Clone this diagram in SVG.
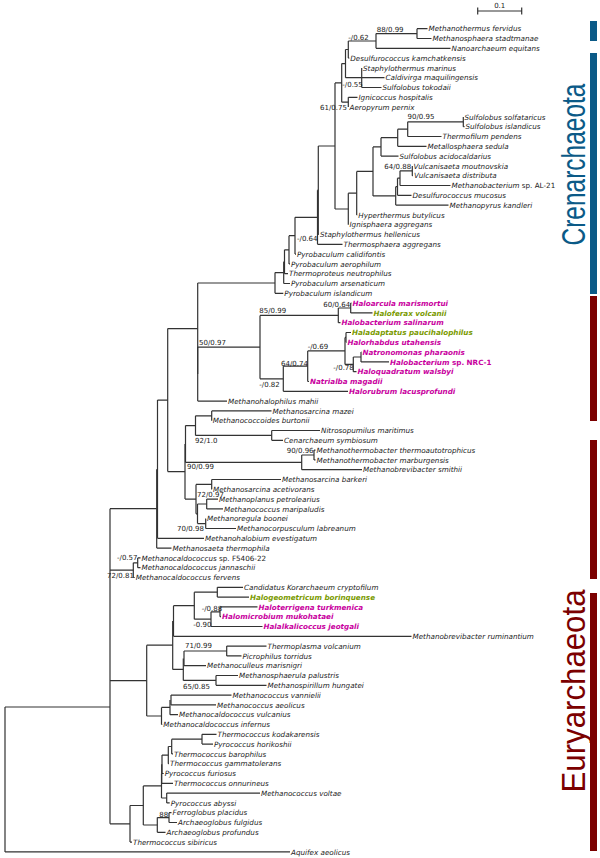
<svg xmlns="http://www.w3.org/2000/svg" width="600" height="858" viewBox="0 0 600 858">
<style>
.e{fill:none;stroke:#333;stroke-width:1.2}
.l{font-family:"DejaVu Sans",sans-serif;font-size:7.2px;font-style:italic;fill:#222}
.m{fill:#c8009e;font-weight:bold}
.g{fill:#7a9a00;font-weight:bold}
.u{font-style:normal}
.s{font-family:"DejaVu Sans",sans-serif;font-size:7px;fill:#222}
.big{font-family:"Liberation Sans",Arial,sans-serif;font-size:33.5px}
</style>
<rect width="600" height="858" fill="#fff"/>
<g id="connectors" class="e">
<path d="M417 28.7V38.5M417 28.7H427.5M417 38.5H431.5"/>
<path d="M376 33.6V48.3M376 33.6H417M376 48.3H450.5"/>
<path d="M348.3 41V58.1M348.3 41H376M348.3 58.1H349.3"/>
<path d="M361.7 67.9V87.5M361.7 77.7H384.5M361.7 87.5H381.5"/>
<path d="M345.5 49.5V77.7M345.5 49.5H348.3M345.5 77.7H361.7"/>
<path d="M348.3 97.3V107.1M348.3 97.3H357.5"/>
<path d="M341.7 63.6V102.2M341.7 63.6H345.5M341.7 102.2H348.3"/>
<path d="M463.3 116.9V126.7M463.3 126.7H464.5"/>
<path d="M407.7 121.8V136.5M407.7 121.8H463.3M407.7 136.5H441.5"/>
<path d="M397.7 129.2V146.3M397.7 129.2H407.7M397.7 146.3H426.5"/>
<path d="M381 137.7V156.1M381 137.7H397.7M381 156.1H398.5"/>
<path d="M412.3 165.9V175.7M412.3 175.7H413"/>
<path d="M400 170.8V185.5M400 170.8H412.3M400 185.5H450.5"/>
<path d="M397.5 178.2V195.3M397.5 178.2H400M397.5 195.3H411.5"/>
<path d="M395.7 186.7V205.1M395.7 186.7H397.5M395.7 205.1H448.5"/>
<path d="M373 146.9V195.9M373 146.9H381M373 195.9H395.7"/>
<path d="M356.7 171.4V214.9M356.7 171.4H373M356.7 214.9H357.3"/>
<path d="M348.3 193.2V224.7M348.3 193.2H356.7"/>
<path d="M335 82.9V209M335 82.9H341.7M335 209H348.3"/>
<path d="M318.3 146V234.5M318.3 146H335M318.3 234.5H319"/>
<path d="M317.5 190.2V244.3M317.5 190.2H318.3M317.5 244.3H342.5"/>
<path d="M295 217.3V254.1M295 217.3H317.5M295 254.1H296"/>
<path d="M289 235.7V263.9M289 235.7H295M289 263.9H290"/>
<path d="M284.5 249.8V273.7M284.5 249.8H289M284.5 273.7H288"/>
<path d="M283.7 261.8V283.5M283.7 261.8H284.5M283.7 283.5H290"/>
<path d="M275 272.6V293.3M275 272.6H283.7M275 293.3H283.3"/>
<path d="M350.7 303.1V312.9M350.7 303.1H351.5M350.7 312.9H372.5"/>
<path d="M338.3 308V322.7M338.3 308H350.7M338.3 322.7H340.5"/>
<path d="M361 352.1V361.9M361 352.1H361.5M361 361.9H389"/>
<path d="M353.3 357V371.7M353.3 357H361M353.3 371.7H356.5"/>
<path d="M346 332.5V342.3M346 332.5H351M346 342.3H346.5"/>
<path d="M345 337.4V364.4M345 337.4H346M345 364.4H353.3"/>
<path d="M307.7 350.9V381.5M307.7 350.9H345M307.7 381.5H309"/>
<path d="M283.3 366.2V391.3M283.3 366.2H307.7M283.3 391.3H348"/>
<path d="M260 315.4V378.8M260 315.4H338.3M260 378.8H283.3"/>
<path d="M197.7 347.1V401.1M197.7 347.1H260M197.7 401.1H227"/>
<path d="M197.7 283V374.1M197.7 283H275"/>
<path d="M211.7 410.9V420.7M211.7 410.9H271.5"/>
<path d="M271.7 430.5V440.3M271.7 430.5H320M271.7 440.3H283"/>
<path d="M195.5 415.8V435.4M195.5 415.8H211.7M195.5 435.4H271.7"/>
<path d="M314 450.1V459.9M314 450.1H315.5M314 459.9H315.5"/>
<path d="M301.7 455V469.7M301.7 455H314M301.7 469.7H362"/>
<path d="M185.5 425.6V462.4M185.5 425.6H195.5M185.5 462.4H301.7"/>
<path d="M211.7 479.5V489.3M211.7 479.5H281M211.7 489.3H212"/>
<path d="M206.7 499.1V508.9M206.7 499.1H218M206.7 508.9H223"/>
<path d="M205.7 518.7V528.5M205.7 518.7H206M205.7 528.5H236"/>
<path d="M197.5 504V523.6M197.5 504H206.7M197.5 523.6H205.7"/>
<path d="M196 484.4V513.8M196 484.4H211.7M196 513.8H197.5"/>
<path d="M185 444V499.1M185 499.1H196"/>
<path d="M167.7 328.6V471.6M167.7 328.6H197.7M167.7 471.6H185"/>
<path d="M157.5 400.1V538.3M157.5 400.1H167.7M157.5 538.3H204"/>
<path d="M156.7 469.2V548.1M156.7 548.1H171.5"/>
<path d="M137.7 557.9V567.7M137.7 557.9H140.5M137.7 567.7H140.5"/>
<path d="M133.3 562.8V577.5M133.3 562.8H137.7M133.3 577.5H134.7"/>
<path d="M217.3 587.3V597.1M217.3 587.3H243M217.3 597.1H249"/>
<path d="M220 606.9V616.7M220 606.9H257.5M220 616.7H221"/>
<path d="M211 611.8V626.5M211 611.8H220M211 626.5H262.5"/>
<path d="M194.3 592.2V619.2M194.3 592.2H217.3M194.3 619.2H211"/>
<path d="M173.5 605.7V636.3M173.5 605.7H194.3M173.5 636.3H411.5"/>
<path d="M226.7 646.1V655.9M226.7 646.1H266.5M226.7 655.9H241.5"/>
<path d="M184 651V665.7M184 651H226.7M184 665.7H206"/>
<path d="M216 675.5V685.3M216 675.5H238M216 685.3H266.5"/>
<path d="M183.3 658.4V680.4M183.3 680.4H216"/>
<path d="M172.7 621V669.4M172.7 669.4H183.3"/>
<path d="M171 695.1V704.9M171 695.1H231.5M171 704.9H216"/>
<path d="M170 700V714.7M170 714.7H178"/>
<path d="M161.5 707.4V724.5M161.5 707.4H170M161.5 724.5H162.3"/>
<path d="M146.7 645.2V716M146.7 645.2H172.7M146.7 716H161.5"/>
<path d="M202 734.3V744.1M202 734.3H216.5M202 744.1H213"/>
<path d="M171.7 739.2V753.9M171.7 739.2H202M171.7 753.9H173"/>
<path d="M168.3 746.5V763.7M168.3 746.5H171.7M168.3 763.7H169"/>
<path d="M162 755.1V773.5M162 755.1H168.3M162 773.5H163.7"/>
<path d="M161.7 764.3V783.3M161.7 783.3H173"/>
<path d="M166.7 793.1V802.9M166.7 793.1H260M166.7 802.9H169.7"/>
<path d="M161.5 773.8V798M161.5 798H166.7"/>
<path d="M169 812.7V822.5M169 812.7H171.5M169 822.5H177"/>
<path d="M157.3 817.6V832.3M157.3 817.6H169M157.3 832.3H165.5"/>
<path d="M143.3 785.9V825M143.3 785.9H161.5M143.3 825H157.3"/>
<path d="M130 805.5V842.1M130 805.5H143.3M130 842.1H132"/>
<path d="M110 508.7V823.8M110 508.7H156.7M110 570.2H133.3M110 680.6H146.7M110 823.8H130"/>
<path d="M5 707V851.9M5 707H110M5 851.9H290"/>
</g>
<g id="scalebar">
<path class="e" d="M477.7 11H521.7M477.7 7.5V14.5M521.7 7.5V14.5"/>
<text class="s" x="499.7" y="8" text-anchor="middle">0.1</text>
</g>
<g id="support" class="s">
<text x="376.7" y="32">88/0.99</text>
<text x="348.3" y="39.5">-/0.62</text>
<text x="342.3" y="87">-/0.55</text>
<text x="320" y="109.5">61/0.75</text>
<text x="407.5" y="118.5">90/0.95</text>
<text x="384.3" y="168.5">64/0.88</text>
<text x="297" y="241">-/0.64</text>
<text x="323.3" y="306.5">60/0.64</text>
<text x="259.3" y="312.5">85/0.99</text>
<text x="199" y="344.8">50/0.97</text>
<text x="307.7" y="348.5">-/0.69</text>
<text x="281" y="365.8">64/0.74</text>
<text x="333.3" y="370.2">-/0.78</text>
<text x="259.3" y="386.8">-/0.82</text>
<text x="195" y="442.5">92/1.0</text>
<text x="286.7" y="453.2">90/0.96</text>
<text x="187" y="469.2">90/0.99</text>
<text x="197" y="497">72/0.97</text>
<text x="177" y="530.8">70/0.98</text>
<text x="117" y="560.2">-/0.57</text>
<text x="107" y="577.5">72/0.81</text>
<text x="201.7" y="610.8">-/0.88</text>
<text x="193.3" y="626.8">-0.90</text>
<text x="185" y="647.5">71/0.99</text>
<text x="183" y="688.5">65/0.85</text>
<text x="159.3" y="816.8">88</text>
</g>
<g id="leaves" class="l">
<g id="t1"><text x="428.5" y="31.3">Methanothermus fervidus</text></g>
<g id="t2"><text x="432.5" y="41.1">Methanosphaera stadtmanae</text></g>
<g id="t3"><text x="451.5" y="50.9">Nanoarchaeum equitans</text></g>
<g id="t4"><text x="350.3" y="60.7">Desulfurococcus kamchatkensis</text></g>
<g id="t5"><text x="363" y="70.5">Staphylothermus marinus</text></g>
<g id="t6"><text x="385.5" y="80.3">Caldivirga maquilingensis</text></g>
<g id="t7"><text x="382.5" y="90.1">Sulfolobus tokodaii</text></g>
<g id="t8"><text x="358.5" y="99.9">Ignicoccus hospitalis</text></g>
<g id="t9"><text x="349.5" y="109.7">Aeropyrum pernix</text></g>
<g id="t10"><text x="464.5" y="119.5">Sulfolobus solfataricus</text></g>
<g id="t11"><text x="465.5" y="129.3">Sulfolobus islandicus</text></g>
<g id="t12"><text x="442.5" y="139.1">Thermofilum pendens</text></g>
<g id="t13"><text x="427.5" y="148.9">Metallosphaera sedula</text></g>
<g id="t14"><text x="399.5" y="158.7">Sulfolobus acidocaldarius</text></g>
<g id="t15"><text x="413.5" y="168.5">Vulcanisaeta moutnovskia</text></g>
<g id="t16"><text x="414" y="178.3">Vulcanisaeta distributa</text></g>
<g id="t17"><text x="451.5" y="188.1">Methanobacterium <tspan class="u">sp. AL-21</tspan></text></g>
<g id="t18"><text x="412.5" y="197.9">Desulfurococcus mucosus</text></g>
<g id="t19"><text x="449.5" y="207.7">Methanopyrus kandleri</text></g>
<g id="t20"><text x="358.3" y="217.5">Hyperthermus butylicus</text></g>
<g id="t21"><text x="349.5" y="227.3">Ignisphaera aggregans</text></g>
<g id="t22"><text x="320" y="237.1">Staphylothermus hellenicus</text></g>
<g id="t23"><text x="343.5" y="246.9">Thermosphaera aggregans</text></g>
<g id="t24"><text x="297" y="256.7">Pyrobaculum calidifontis</text></g>
<g id="t25"><text x="291" y="266.5">Pyrobaculum aerophilum</text></g>
<g id="t26"><text x="289" y="276.3">Thermoproteus neutrophilus</text></g>
<g id="t27"><text x="291" y="286.1">Pyrobaculum arsenaticum</text></g>
<g id="t28"><text x="284.3" y="295.9">Pyrobaculum islandicum</text></g>
<g id="t29"><text class="m" x="352.5" y="305.7">Haloarcula marismortui</text></g>
<g id="t30"><text class="g" x="373.5" y="315.5">Haloferax volcanii</text></g>
<g id="t31"><text class="m" x="341.5" y="325.3">Halobacterium salinarum</text></g>
<g id="t32"><text class="g" x="352" y="335.1">Haladaptatus paucihalophilus</text></g>
<g id="t33"><text class="m" x="347.5" y="344.9">Halorhabdus utahensis</text></g>
<g id="t34"><text class="m" x="362.5" y="354.7">Natronomonas pharaonis</text></g>
<g id="t35"><text class="m" x="390" y="364.5">Halobacterium <tspan class="u">sp. NRC-1</tspan></text></g>
<g id="t36"><text class="m" x="357.5" y="374.3">Haloquadratum walsbyi</text></g>
<g id="t37"><text class="m" x="310" y="384.1">Natrialba magadii</text></g>
<g id="t38"><text class="m" x="349" y="393.9">Halorubrum lacusprofundi</text></g>
<g id="t39"><text x="228" y="403.7">Methanohalophilus mahii</text></g>
<g id="t40"><text x="272.5" y="413.5">Methanosarcina mazei</text></g>
<g id="t41"><text x="212.7" y="423.3">Methanococcoides burtonii</text></g>
<g id="t42"><text x="321" y="433.1">Nitrosopumilus maritimus</text></g>
<g id="t43"><text x="284" y="442.9">Cenarchaeum symbiosum</text></g>
<g id="t44"><text x="316.5" y="452.7">Methanothermobacter thermoautotrophicus</text></g>
<g id="t45"><text x="316.5" y="462.5">Methanothermobacter marburgensis</text></g>
<g id="t46"><text x="363" y="472.3">Methanobrevibacter smithii</text></g>
<g id="t47"><text x="282" y="482.1">Methanosarcina barkeri</text></g>
<g id="t48"><text x="213" y="491.9">Methanosarcina acetivorans</text></g>
<g id="t49"><text x="219" y="501.7">Methanoplanus petrolearius</text></g>
<g id="t50"><text x="224" y="511.5">Methanococcus maripaludis</text></g>
<g id="t51"><text x="207" y="521.3">Methanoregula boonei</text></g>
<g id="t52"><text x="237" y="531.1">Methanocorpusculum labreanum</text></g>
<g id="t53"><text x="205" y="540.9">Methanohalobium evestigatum</text></g>
<g id="t54"><text x="172.5" y="550.7">Methanosaeta thermophila</text></g>
<g id="t55"><text x="141.5" y="560.5">Methanocaldococcus <tspan class="u">sp. F5406-22</tspan></text></g>
<g id="t56"><text x="141.5" y="570.3">Methanocaldococcus jannaschii</text></g>
<g id="t57"><text x="135.7" y="580.1">Methanocaldococcus fervens</text></g>
<g id="t58"><text x="244" y="589.9">Candidatus Korarchaeum cryptofilum</text></g>
<g id="t59"><text class="g" x="250" y="599.7">Halogeometricum borinquense</text></g>
<g id="t60"><text class="m" x="258.5" y="609.5">Haloterrigena turkmenica</text></g>
<g id="t61"><text class="m" x="222" y="619.3">Halomicrobium mukohataei</text></g>
<g id="t62"><text class="m" x="263.5" y="629.1">Halalkalicoccus jeotgali</text></g>
<g id="t63"><text x="412.5" y="638.9">Methanobrevibacter ruminantium</text></g>
<g id="t64"><text x="267.5" y="648.7">Thermoplasma volcanium</text></g>
<g id="t65"><text x="242.5" y="658.5">Picrophilus torridus</text></g>
<g id="t66"><text x="207" y="668.3">Methanoculleus marisnigri</text></g>
<g id="t67"><text x="239" y="678.1">Methanosphaerula palustris</text></g>
<g id="t68"><text x="267.5" y="687.9">Methanospirillum hungatei</text></g>
<g id="t69"><text x="232.5" y="697.7">Methanococcus vannielii</text></g>
<g id="t70"><text x="217" y="707.5">Methanococcus aeolicus</text></g>
<g id="t71"><text x="179" y="717.3">Methanocaldococcus vulcanius</text></g>
<g id="t72"><text x="163.3" y="727.1">Methanocaldococcus infernus</text></g>
<g id="t73"><text x="217.5" y="736.9">Thermococcus kodakarensis</text></g>
<g id="t74"><text x="214" y="746.7">Pyrococcus horikoshii</text></g>
<g id="t75"><text x="174" y="756.5">Thermococcus barophilus</text></g>
<g id="t76"><text x="170" y="766.3">Thermococcus gammatolerans</text></g>
<g id="t77"><text x="164.7" y="776.1">Pyrococcus furiosus</text></g>
<g id="t78"><text x="174" y="785.9">Thermococcus onnurineus</text></g>
<g id="t79"><text x="261" y="795.7">Methanococcus voltae</text></g>
<g id="t80"><text x="170.7" y="805.5">Pyrococcus abyssi</text></g>
<g id="t81"><text x="172.5" y="815.3">Ferroglobus placidus</text></g>
<g id="t82"><text x="178" y="825.1">Archaeoglobus fulgidus</text></g>
<g id="t83"><text x="166.5" y="834.9">Archaeoglobus profundus</text></g>
<g id="t84"><text x="133" y="844.7">Thermococcus sibiricus</text></g>
<g id="t85"><text x="291" y="854.5">Aquifex aeolicus</text></g>
</g>
<g id="groups">
<rect x="590" y="21" width="7" height="20" fill="#0b5a87"/>
<rect x="590" y="53" width="7" height="241" fill="#0b5a87"/>
<rect x="590" y="296" width="7" height="125" fill="#7b0000"/>
<rect x="590" y="440" width="7" height="139" fill="#7b0000"/>
<rect x="590" y="593" width="7" height="258" fill="#7b0000"/>
<text class="big" transform="translate(585 164.5) rotate(-90)" text-anchor="middle" fill="#0b5a87" textLength="162" lengthAdjust="spacingAndGlyphs">Crenarchaeota</text>
<text class="big" transform="translate(585 691) rotate(-90)" text-anchor="middle" fill="#7b0000" textLength="203" lengthAdjust="spacingAndGlyphs">Euryarchaeota</text>
</g>
</svg>
